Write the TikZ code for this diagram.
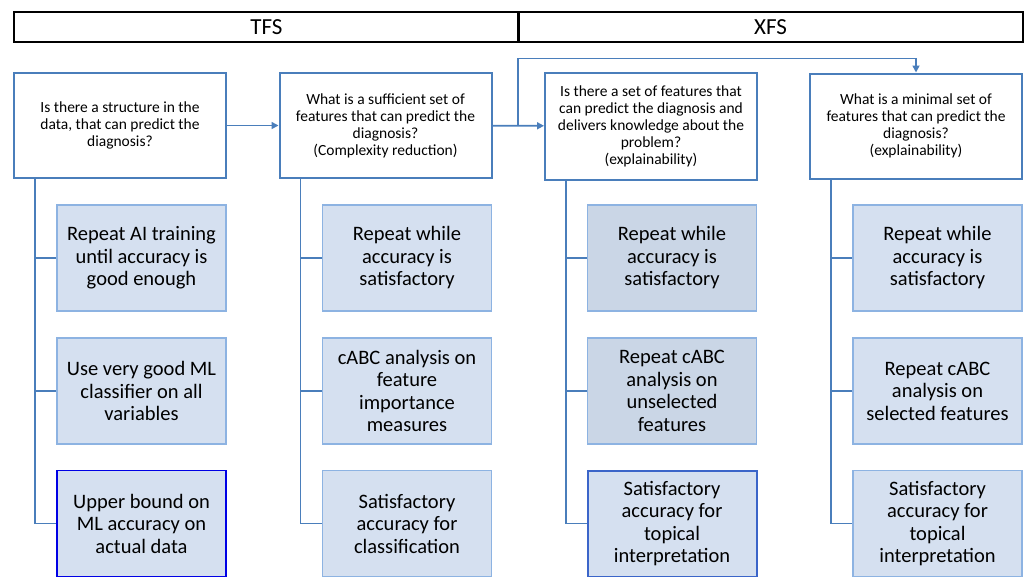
\documentclass[tikz,border=0pt]{standalone}
\usepackage{fontspec}
\setmainfont{Carlito}
\usepackage{tikz}
\usetikzlibrary{arrows.meta,calc}

\definecolor{frameblue}{HTML}{4A7EBB}
\definecolor{boxfill}{HTML}{D5E0F0}
\definecolor{boxedge}{HTML}{8DB3E2}
\definecolor{greyfill}{HTML}{CAD6E6}

\tikzset{
  hdr/.style={draw, line width=1.4pt, minimum width=505pt, minimum height=30pt,
    inner sep=0pt, font=\fontsize{23}{26}\selectfont},
  qbox/.style={draw=frameblue, line width=2pt, fill=white, minimum width=212pt,
    minimum height=105pt, align=center, inner sep=2pt,
    font=\fontsize{15.5}{17}\selectfont},
  abox/.style={draw=boxedge, line width=1.4pt, fill=boxfill, minimum width=169pt,
    minimum height=106pt, align=center, inner sep=2pt,
    font=\fontsize{20.5}{22.5}\selectfont},
  link/.style={draw=frameblue, line width=1.6pt},
  arr/.style={link, -{Triangle[length=7pt,width=7pt]}}
}

\begin{document}
\begin{tikzpicture}[x=1pt,y=-1pt]
\useasboundingbox (0,0) rectangle (1025,576);

% headers
\node[hdr] (tfs) at (266.5,27) {TFS};
\node[hdr] (xfs) at (770.5,27) {XFS};

% questions
\node[qbox] (q1) at (120,125.5) {Is there a structure in the\\data, that can predict the\\diagnosis?};
\node[qbox] (q2) at (385.5,125.5) {What is a sufficient set of\\features that can predict the\\diagnosis?\\(Complexity reduction)};
\node[qbox, minimum height=107pt] (q3) at (651,126) {Is there a set of features that\\can predict the diagnosis and\\delivers knowledge about the\\problem?\\(explainability)};
\node[qbox] (q4) at (916,126) {What is a minimal set of\\features that can predict the\\diagnosis?\\(explainability)};

% steps
\node[abox] (a1) at (141.5,258) {Repeat AI training\\until accuracy is\\good enough};
\node[abox] (b1) at (141.5,391) {Use very good ML\\classifier on all\\variables};
\node[abox, draw=blue!90!black] (c1) at (141.5,523.5) {Upper bound on\\ML accuracy on\\actual data};

\node[abox] (a2) at (407,258) {Repeat while\\accuracy is\\satisfactory};
\node[abox] (b2) at (407,391) {cABC analysis on\\feature\\importance\\measures};
\node[abox] (c2) at (407,523.5) {Satisfactory\\accuracy for\\classification};

\node[abox, fill=greyfill] (a3) at (672,258) {Repeat while\\accuracy is\\satisfactory};
\node[abox, fill=greyfill] (b3) at (672,391) {Repeat cABC\\analysis on\\unselected\\features};
\node[abox, draw=frameblue!80!blue, line width=2pt] (c3) at (672,523.5) {Satisfactory\\accuracy for\\topical\\interpretation};

\node[abox] (a4) at (937.5,258) {Repeat while\\accuracy is\\satisfactory};
\node[abox] (b4) at (937.5,391) {Repeat cABC\\analysis on\\selected features};
\node[abox] (c4) at (937.5,523.5) {Satisfactory\\accuracy for\\topical\\interpretation};

% flow between questions
\draw[arr] (q1) -- (q2);
\draw[arr] (q2) -- (q3);
\coordinate (fork) at ($(q2.east)!0.5!(q3.west)$);
\draw[arr] (fork) |- ([yshift=14pt]q4.north) -- (q4.north);

% trunks
\foreach \col in {1,2,3,4}{
  \coordinate (t\col) at ([xshift=22pt]q\col.south west);
  \draw[link] (t\col) |- (c\col.west);
  \draw[link] (t\col |- a\col.west) -- (a\col.west);
  \draw[link] (t\col |- b\col.west) -- (b\col.west);
}
\end{tikzpicture}
\end{document}
